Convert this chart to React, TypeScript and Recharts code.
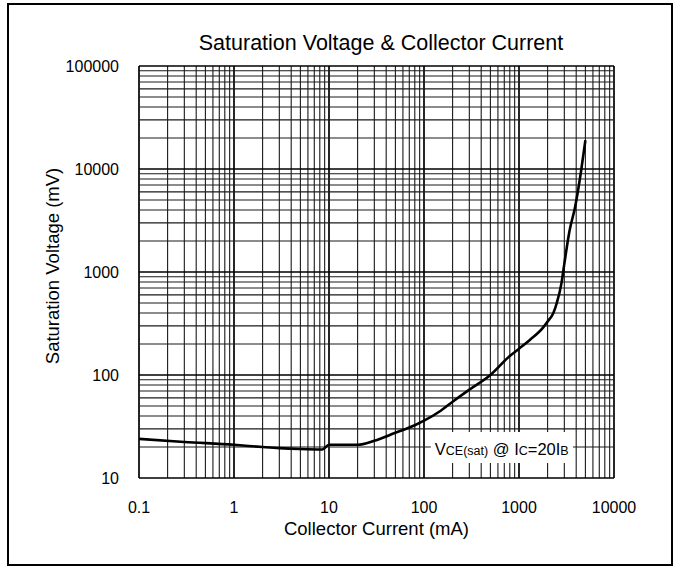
import React from 'react';
import { LineChart, Line, XAxis, YAxis, ReferenceLine, ReferenceArea } from 'recharts';

// Collector current (mA) vs VCE(sat) (mV)
const current = [0.1, 0.3, 1, 2, 3, 5, 8.5, 10, 20, 30, 50, 80, 100, 150, 200, 300, 500, 800, 1000, 1300, 1800, 2000, 2300, 2500, 2800, 3000, 3400, 3900, 4500, 5000];
const voltage = [24, 22.4, 21, 20, 19.5, 19.1, 18.9, 21, 21, 23, 27.5, 32.5, 36, 45, 55, 72, 100, 153, 180, 219, 290, 330, 400, 500, 780, 1200, 2500, 4300, 9500, 19000];

const xTicks = [0.1, 1, 10, 100, 1000, 10000];
const yTicks = [10, 100, 1000, 10000, 100000];
const mantissas = [1, 2, 3, 4, 5, 6, 7, 8, 9];

const xDecades = [0.1, 1, 10, 100, 1000];
const yDecades = [10, 100, 1000, 10000];

const xGrid = xDecades.flatMap((d) => mantissas.map((m) => +(d * m).toPrecision(3))).concat([10000]);
const yGrid = yDecades.flatMap((d) => mantissas.map((m) => d * m)).concat([100000]);

const data = current.map((x, i) => ({ x, v: voltage[i] }));

const font = '"Liberation Sans", Arial, sans-serif';

const isMajor = (v: number) => Math.abs(Math.log10(v) - Math.round(Math.log10(v))) < 1e-6;

const Note = (props: any) => {
  const vb = props.viewBox || {};
  return (
    <text x={vb.x + 4} y={vb.y + vb.height / 2 + 7.5} fontFamily={font} fill="#000">
      <tspan fontSize={16.5}>V</tspan>
      <tspan fontSize={12.5}>CE(sat)</tspan>
      <tspan fontSize={16.5}>{' @ I'}</tspan>
      <tspan fontSize={12.5}>C</tspan>
      <tspan fontSize={16.5}>=20I</tspan>
      <tspan fontSize={12.5}>B</tspan>
    </text>
  );
};

const YLabel = (props: any) => {
  const vb = props.viewBox || {};
  const cx = vb.x + 13;
  const cy = vb.y + vb.height / 2 - 6;
  return (
    <text x={cx} y={cy} dy="0.355em" transform={`rotate(-90 ${cx} ${cy})`} textAnchor="middle" fontFamily={font} fontSize={18.5} fill="#000">
      Saturation Voltage (mV)
    </text>
  );
};

export default function App() {
  return (
    <div style={{ position: 'absolute', left: 0, top: 0, width: 682, height: 570, background: '#fff', fontFamily: font }}>
      <div style={{ position: 'absolute', left: 7, top: 3, width: 662, height: 559, border: '2.5px solid #000' }} />
      <div style={{ position: 'absolute', left: 381, top: 33, transform: 'translateX(-50%)', fontSize: 21.5, lineHeight: '21px', whiteSpace: 'nowrap', color: '#000' }}>
        Saturation Voltage &amp; Collector Current
      </div>
      <div style={{ position: 'absolute', left: 0, top: 0 }}>
        <LineChart width={682} height={570} data={data} margin={{ top: 66, right: 68, bottom: 32, left: 39 }}>
          <XAxis
            dataKey="x"
            type="number"
            scale="log"
            domain={[0.1, 10000]}
            ticks={xTicks}
            interval={0}
            allowDataOverflow
            axisLine={false}
            tickLine={false}
            tickSize={0}
            tickMargin={24}
            height={60}
            tick={{ fill: '#000', fontSize: 16, fontFamily: font }}
            tickFormatter={(v: number) => String(v)}
            label={{ value: 'Collector Current (mA)', position: 'insideBottom', offset: 3, fill: '#000', fontSize: 18.5, fontFamily: font }}
          />
          <YAxis
            type="number"
            scale="log"
            domain={[10, 100000]}
            ticks={yTicks}
            interval={0}
            allowDataOverflow
            axisLine={false}
            tickLine={false}
            tickSize={0}
            tickMargin={20}
            width={100}
            tick={{ fill: '#000', fontSize: 16, fontFamily: font }}
            label={<YLabel />}
          />
          {xGrid.map((v) => (
            <ReferenceLine key={'x' + v} x={v} stroke={isMajor(v) ? '#000' : '#1a1a1a'} strokeWidth={isMajor(v) ? 1.7 : 1.1} />
          ))}
          {yGrid.map((v) => (
            <ReferenceLine key={'y' + v} y={v} stroke={isMajor(v) ? '#000' : '#1a1a1a'} strokeWidth={isMajor(v) ? 1.7 : 1.1} />
          ))}
          <ReferenceArea x1={118} x2={3700} y1={14} y2={28} fill="#fff" fillOpacity={1} stroke="none" zIndex={450} label={<Note />} />
          <Line dataKey="v" type="monotone" stroke="#000" strokeWidth={2.6} dot={false} isAnimationActive={false} />
        </LineChart>
      </div>
    </div>
  );
}
